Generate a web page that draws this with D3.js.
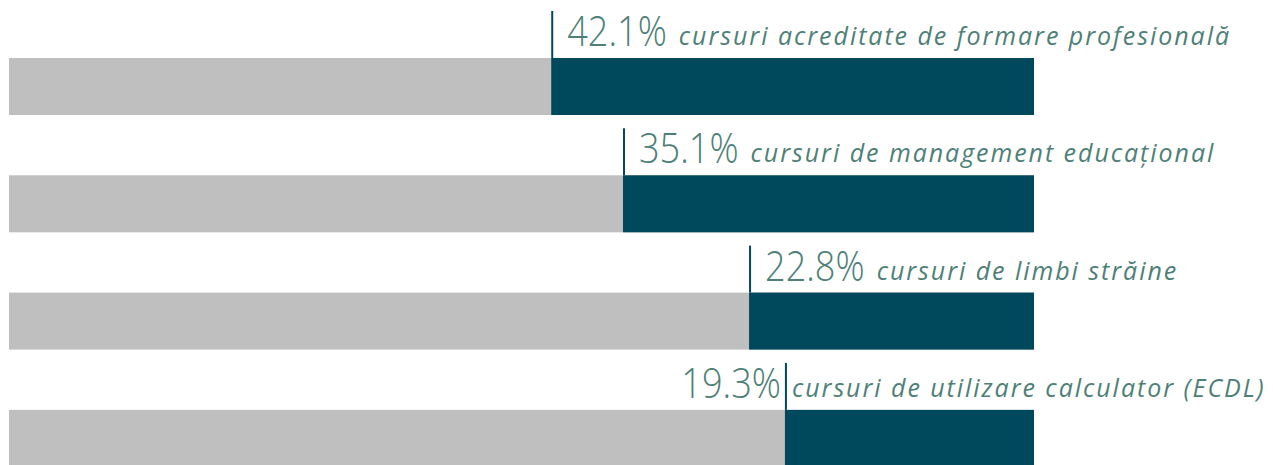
<!DOCTYPE html>
<html>
<head>
<meta charset="utf-8">
<script src="https://cdn.jsdelivr.net/npm/d3@7"></script>
<style>
  body { margin: 0; background: #fff; }
</style>
</head>
<body>
<div id="chart"></div>
<script>
var categories = [
  "cursuri acreditate de formare profesională",
  "cursuri de management educațional",
  "cursuri de limbi străine",
  "cursuri de utilizare calculator (ECDL)"
];
var values = [42.1, 35.1, 22.8, 19.3];
var valueLabels = ["42.1%", "35.1%", "22.8%", "19.3%"];

var width = 1273, height = 465;
var svg = d3.select("#chart").append("svg")
  .attr("width", width).attr("height", height);

// bars grow from the right edge
var x = d3.scaleLinear().domain([95, -5]).range([9, 1034]);
var y = d3.scaleBand().domain(categories).range([58, 466.9]).paddingInner(0.514).paddingOuter(0);

var rows = svg.selectAll("g.row").data(categories).enter().append("g").attr("class", "row");

// gray background track
rows.append("rect")
  .attr("x", x(95)).attr("y", function(d) { return y(d); })
  .attr("width", x(-5) - x(95)).attr("height", y.bandwidth())
  .attr("fill", "#bfbfbf");

// value part
rows.append("rect")
  .attr("x", function(d, i) { return x(values[i]); })
  .attr("y", function(d) { return y(d); })
  .attr("width", function(d, i) { return x(-5) - x(values[i]); })
  .attr("height", y.bandwidth())
  .attr("fill", "#00485b");

// marker line
rows.append("line")
  .attr("x1", function(d, i) { return x(values[i]) + 1; })
  .attr("x2", function(d, i) { return x(values[i]) + 1; })
  .attr("y1", function(d) { return y(d) - 47; })
  .attr("y2", function(d) { return y(d); })
  .attr("stroke", "#00485b").attr("stroke-width", 2);

var sx = 0.86; // squeeze the big numbers horizontally
var last = categories.length - 1;
rows.each(function(d, i) {
  var g = d3.select(this);
  var lx = x(values[i]) + 1;
  var base = y(d) - 12;
  var pct = g.append("text")
    .attr("y", base)
    .attr("fill", "#4e8077")
    .style("font-family", "'Open Sans', sans-serif")
    .style("font-weight", 300)
    .style("font-size", "42px")
    .text(valueLabels[i]);
  var lab = g.append("text")
    .attr("y", base - 1)
    .attr("fill", "#4e8077")
    .style("font-family", "'Open Sans', sans-serif")
    .style("font-style", "italic")
    .style("font-size", "25px")
    .style("letter-spacing", "1.95px")
    .text(d);
  var w = pct.node().getComputedTextLength() * sx;
  var px;
  if (i === last) {
    px = lx - 5 - w;
    lab.attr("x", lx + 6);
  } else {
    px = lx + 15;
    lab.attr("x", px + w + 12);
  }
  pct.attr("transform", "translate(" + px + ",0) scale(" + sx + ",1)");
});
</script>
</body>
</html>
